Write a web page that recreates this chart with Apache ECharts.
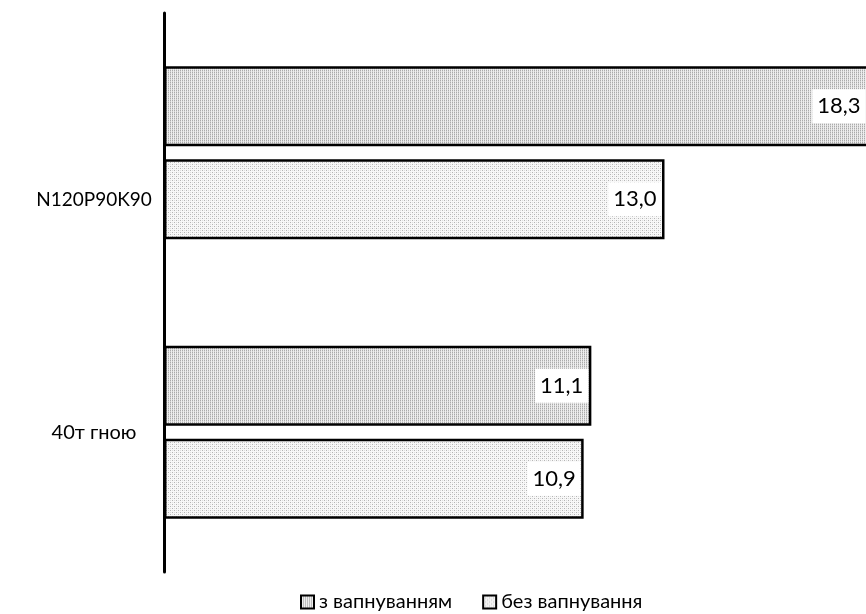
<!DOCTYPE html>
<html>
<head>
<meta charset="utf-8">
<script src="https://cdn.jsdelivr.net/npm/echarts@6/dist/echarts.min.js"></script>
<style>
  html, body { margin: 0; padding: 0; background: #fff; }
  #chart { width: 866px; height: 614px; }
</style>
</head>
<body>
<div id="chart"></div>
<script>
// Categories (top to bottom) and the two series
const categories = ['N120P90K90', '40т гною'];
const seriesNames = ['з вапнуванням', 'без вапнування'];
const withLiming = [18.3, 11.1];
const withoutLiming = [13.0, 10.9];

// Small repeating dot textures for the bar fills
function makePattern(size, painter) {
  const c = document.createElement('canvas');
  c.width = size; c.height = size;
  const ctx = c.getContext('2d');
  painter(ctx, size);
  return c;
}
const densePattern = makePattern(4, (ctx, s) => {
  for (let y = 0; y < s; y++) {
    for (let x = 0; x < s; x++) {
      let col;
      if (x % 2 === 0 && y % 2 === 0) col = '#aaaaaa';
      else if (x % 2 === 0) col = '#d2d2d2';
      else col = '#eeeeee';
      ctx.fillStyle = col;
      ctx.fillRect(x, y, 1, 1);
    }
  }
});
const sparsePattern = makePattern(4, (ctx, s) => {
  ctx.fillStyle = '#f8f8f8';
  ctx.fillRect(0, 0, s, s);
  ctx.fillStyle = '#b4b4b4';
  ctx.fillRect(0, 0, 1, 1);
  ctx.fillRect(2, 2, 1, 1);
  ctx.fillStyle = '#dedede';
  ctx.fillRect(2, 0, 1, 1);
  ctx.fillRect(0, 2, 1, 1);
});

const fmt = v => v.toFixed(1).replace('.', ',');

const valueLabel = {
  show: true,
  position: 'insideRight',
  distance: 3,
  formatter: p => fmt(p.value),
  fontFamily: 'Lato',
  fontSize: 22,
  color: '#000',
  backgroundColor: '#fff',
  padding: [4, 5, 4, 5],
  lineHeight: 26
};

const chart = echarts.init(document.getElementById('chart'), null, { renderer: 'canvas' });
chart.setOption({
  animation: false,
  backgroundColor: '#fff',
  textStyle: { fontFamily: 'Lato' },
  grid: { left: 164, top: 13, width: 770, bottom: 42, outerBoundsMode: 'none', containLabel: false },
  xAxis: {
    type: 'value',
    min: 0,
    max: 20,
    show: false
  },
  yAxis: {
    type: 'category',
    data: categories,
    inverse: true,
    axisLine: { show: true, lineStyle: { color: '#000', width: 3 } },
    axisTick: { show: false },
    splitLine: { show: false },
    axisLabel: {
      align: 'center',
      margin: 70,
      color: '#000',
      fontFamily: 'Lato',
      fontSize: 19,
      formatter: (v, i) => i === 0 ? '{lo|' + v + '}' : '{n|' + v + '}',
      rich: {
        lo: { fontFamily: 'Lato', fontSize: 19, color: '#000', padding: [94, 0, 0, 0] },
        n: { fontFamily: 'Lato', fontSize: 20, color: '#000', padding: [0, 0, 0, 0] }
      }
    }
  },
  legend: {
    left: 300,
    top: 592,
    padding: 0,
    itemWidth: 13,
    itemHeight: 13,
    itemGap: 30,
    itemTextGap: 4,
    icon: 'rect',
    textStyle: { fontFamily: 'Lato', fontSize: 20, color: '#000' },
    data: seriesNames
  },
  series: [
    {
      name: seriesNames[0],
      type: 'bar',
      data: withLiming,
      barWidth: 80,
      barGap: '16%',
      clip: false,
      itemStyle: {
        color: { image: densePattern, repeat: 'repeat' },
        borderColor: '#000',
        borderWidth: 2.5
      },
      label: valueLabel
    },
    {
      name: seriesNames[1],
      type: 'bar',
      data: withoutLiming,
      barWidth: 80,
      clip: false,
      itemStyle: {
        color: { image: sparsePattern, repeat: 'repeat' },
        borderColor: '#000',
        borderWidth: 2.5
      },
      label: valueLabel
    }
  ]
});
</script>
</body>
</html>
